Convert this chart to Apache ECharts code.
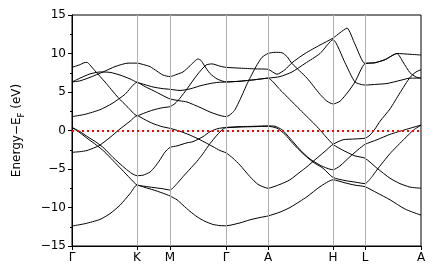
<!DOCTYPE html>
<html>
<head>
<meta charset="utf-8">
<script src="https://cdn.jsdelivr.net/npm/echarts@6/dist/echarts.min.js"></script>
<style>html,body{margin:0;padding:0;background:#fff}#c{width:436px;height:280px}</style>
</head>
<body>
<div id="c"></div>
<script>
// k-path positions of high-symmetry points and their labels
const kpos = [0, 65, 98, 154, 196, 261, 293, 349];
const klabels = ['Γ', 'K', 'M', 'Γ', 'A', 'H', 'L', 'A'];
const yTicks = [-15, -10, -5, 0, 5, 10, 15];

// bands: [k, E - E_F (eV)]
const bandA = [[0,8.2],[8,8.55],[12,8.8],[15,8.85],[18,8.5],[23,7.75],[33,6.3],[46,4.3],[56,3.0],[65,1.92],[73,2.3],[81,2.66],[90,2.95],[98,3.1],[103,3.5],[108,4.2],[115,5.4],[125,7.2],[134,8.5],[140,8.65],[148,8.35],[154,8.2],[168,8.1],[183,8.0],[196,7.95],[205,7.3],[213,7.9],[220,8.8],[233,10.0],[248,11.1],[261,12.0],[268,12.7],[275,13.3],[283,11.2],[293,8.7],[303,8.8],[313,9.2],[325,10.0],[338,9.9],[349,9.8]];
const bandB = [[0,6.3],[8,6.45],[18,6.9],[31,7.6],[43,8.3],[56,8.75],[65,8.75],[73,8.5],[78,8.3],[85,7.7],[91,7.2],[98,7.0],[105,7.3],[111,7.6],[118,8.4],[123,9.05],[126,9.3],[129,9.1],[132,8.5],[138,7.4],[145,6.7],[151,6.4],[154,6.3],[168,6.4],[183,6.6],[196,6.8],[208,7.0],[220,7.6],[233,8.7],[248,10.0],[261,11.8],[273,8.8],[283,6.3],[293,5.9],[305,6.0],[315,6.1],[328,6.5],[338,6.8],[349,6.8]];
const bandC = [[0,6.3],[8,6.8],[18,7.35],[28,7.6],[38,7.55],[48,7.2],[58,6.7],[65,6.26],[73,5.95],[81,5.65],[90,5.45],[98,5.35],[108,5.2],[118,5.4],[128,5.8],[138,6.1],[146,6.25],[154,6.3],[168,6.4],[183,6.6],[196,6.8],[208,5.3],[218,4.0],[228,2.7],[245,0.5],[261,-1.8],[273,-2.7],[283,-3.3],[293,-3.6],[305,-4.9],[318,-6.2],[328,-6.9],[338,-7.35],[349,-7.5]];
const bandD = [[0,1.8],[13,2.1],[28,2.7],[40,3.5],[53,4.7],[65,6.26],[73,5.7],[81,5.2],[90,4.6],[98,4.1],[108,3.85],[115,3.7],[128,3.0],[138,2.4],[148,1.95],[154,1.8],[157,1.95],[160,2.25],[163,2.7],[168,4.0],[176,6.3],[184,8.3],[190,9.5],[196,10.0],[203,10.15],[210,10.1],[215,9.6],[220,8.7],[235,6.8],[248,4.7],[255,3.8],[261,3.45],[268,3.8],[276,5.0],[283,6.3],[293,8.7],[303,8.8],[313,9.2],[325,10.0],[331,8.9],[338,7.5],[344,6.95],[349,6.8]];
const bandE = [[0,0.4],[8,-0.15],[16,-0.85],[24,-1.5],[32,-2.3],[41,-3.5],[53,-4.9],[60,-5.6],[65,-5.87],[71,-5.8],[78,-5.4],[83,-4.7],[88,-3.8],[93,-2.8],[98,-2.2],[105,-2.0],[115,-1.6],[121,-1.45],[131,-0.8],[138,-0.15],[146,0.25],[154,0.4],[168,0.5],[183,0.55],[196,0.6],[203,0.55],[210,0.1],[218,-1.0],[228,-2.5],[238,-3.7],[248,-4.5],[255,-4.9],[261,-5.1],[268,-4.6],[278,-3.4],[286,-2.5],[293,-1.8],[305,-1.2],[318,-0.5],[333,0.1],[349,0.7]];
const bandF = [[0,0.4],[8,-0.3],[16,-1.1],[24,-1.85],[32,-2.7],[41,-3.9],[50,-5.1],[58,-6.2],[65,-7.08],[73,-7.25],[81,-7.4],[90,-7.55],[98,-7.73],[105,-6.9],[111,-6.0],[118,-5.0],[125,-4.0],[131,-3.0],[138,-1.7],[145,-0.6],[151,0.2],[154,0.35],[168,0.45],[183,0.5],[196,0.55],[205,0.3],[213,-0.5],[221,-1.7],[231,-3.0],[241,-4.1],[251,-4.9],[261,-6.1],[273,-6.5],[283,-6.7],[293,-6.9],[300,-6.0],[305,-5.1],[318,-3.0],[333,-1.0],[342,0.1],[349,0.7]];
const bandG = [[0,-2.83],[8,-2.75],[15,-2.6],[23,-2.2],[28,-1.9],[38,-0.9],[48,0.2],[58,1.2],[65,1.92],[73,1.4],[81,0.9],[90,0.5],[98,0.28],[108,-0.1],[118,-0.6],[128,-1.2],[141,-2.1],[148,-2.6],[154,-2.9],[161,-3.6],[168,-4.5],[178,-6.0],[186,-7.0],[196,-7.5],[208,-7.0],[218,-6.4],[228,-5.4],[235,-4.7],[243,-3.8],[253,-2.7],[261,-1.8],[271,-1.2],[283,-1.1],[293,-1.0],[298,-0.6],[303,0.2],[308,1.2],[318,2.8],[328,4.9],[338,6.9],[344,7.6],[349,7.9]];
const bandH = [[0,-12.4],[13,-12.1],[28,-11.55],[38,-10.8],[48,-9.7],[58,-8.2],[65,-7.08],[73,-7.4],[81,-7.7],[90,-8.1],[98,-8.5],[105,-9.0],[111,-9.7],[118,-10.5],[125,-11.2],[133,-11.8],[141,-12.2],[148,-12.35],[154,-12.38],[168,-12.0],[178,-11.6],[188,-11.3],[196,-11.1],[208,-10.6],[218,-10.0],[228,-9.2],[235,-8.6],[248,-7.3],[261,-6.4],[273,-6.8],[283,-7.1],[293,-7.3],[305,-8.1],[318,-9.0],[333,-10.2],[349,-11.0]];

const bands = [bandA, bandB, bandC, bandD, bandE, bandF, bandG, bandH];
const FONT = 'DejaVu Sans';
const fmtNum = v => (v < 0 ? '\u2212' + (-v) : '' + v);

const chart = echarts.init(document.getElementById('c'), null, {renderer: 'canvas'});
const series = bands.map(b => ({
  type: 'line', data: b, showSymbol: false, smooth: 0.2, silent: true,
  lineStyle: {color: '#000', width: 1}, z: 3
}));
series.push({
  type: 'line', data: [], silent: true, z: 1,
  markLine: {
    silent: true, symbol: ['none', 'none'], animation: false,
    label: {show: false},
    lineStyle: {color: '#b0b0b0', width: 1, type: 'solid'},
    data: kpos.slice(1, -1).map(v => ({xAxis: v}))
  }
});
series.push({
  type: 'line', data: [], silent: true, z: 5,
  markLine: {
    silent: true, symbol: ['none', 'none'], animation: false,
    label: {show: false},
    lineStyle: {color: '#ff0000', width: 2, type: [2, 3]},
    data: [{yAxis: 0}]
  }
});

chart.setOption({
  animation: false,
  backgroundColor: '#fff',
  grid: {left: 72, top: 15, width: 349, height: 231, show: true, borderColor: '#000', borderWidth: 1, backgroundColor: 'transparent'},
  xAxis: {
    type: 'value', min: 0, max: 349,
    axisLine: {show: true, onZero: false, lineStyle: {color: '#000', width: 1}},
    splitLine: {show: false},
    axisTick: {show: true, customValues: kpos, length: 4, lineStyle: {color: '#000'}},
    axisLabel: {
      customValues: kpos, margin: 6, fontSize: 12, color: '#000', fontFamily: FONT,
      formatter: (v, i) => { const j = kpos.indexOf(v); return klabels[j >= 0 ? j : i]; }
    }
  },
  yAxis: {
    type: 'value', min: -15, max: 15, interval: 5,
    axisLine: {show: true, onZero: false, lineStyle: {color: '#000', width: 1}},
    axisTick: {show: true, length: 4, lineStyle: {color: '#000'}},
    minorTick: {show: true, splitNumber: 2, length: 2, lineStyle: {color: '#000'}},
    splitLine: {show: false}, minorSplitLine: {show: false},
    axisLabel: {margin: 6, fontSize: 12, color: '#000', fontFamily: FONT, formatter: fmtNum},
    name: '{a|Energy\u2212E}{s|F}{a| (eV)}',
    nameLocation: 'middle', nameGap: 46,
    nameTextStyle: {
      color: '#000', fontFamily: FONT, fontSize: 12,
      rich: {
        a: {fontSize: 12, fontFamily: FONT, color: '#000', lineHeight: 18, verticalAlign: 'middle'},
        s: {fontSize: 8.5, fontFamily: FONT, color: '#000', lineHeight: 18, verticalAlign: 'bottom'}
      }
    }
  },
  series: series
});
</script>
</body>
</html>
